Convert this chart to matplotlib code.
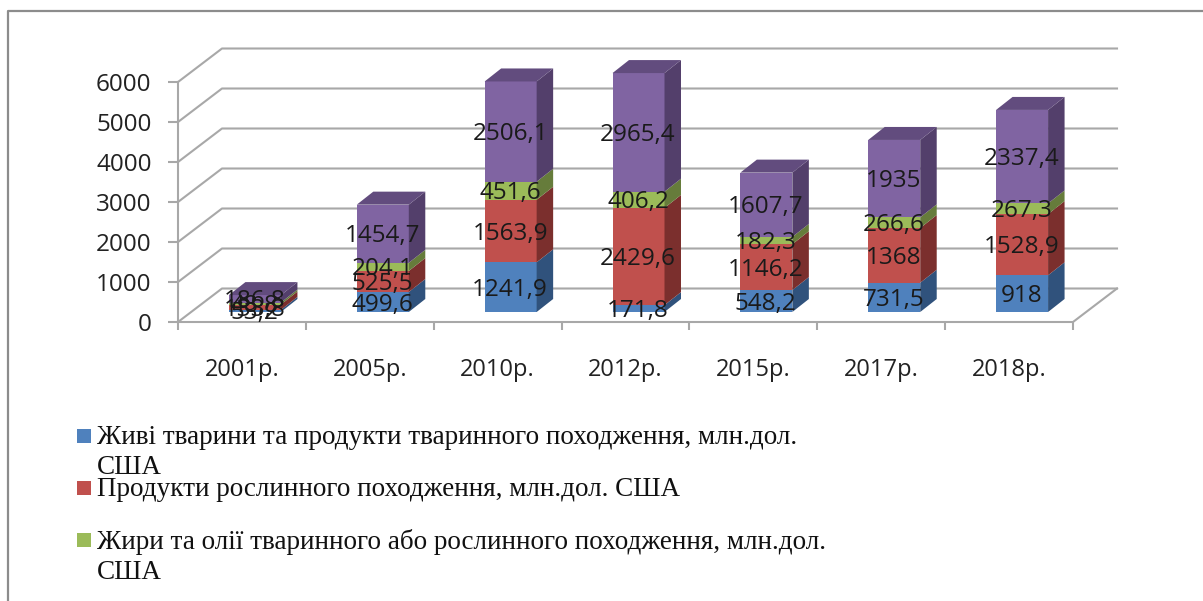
import matplotlib
matplotlib.use("Agg")
import matplotlib.pyplot as plt
from matplotlib.patches import Rectangle
import numpy as np

years = ["2001р.", "2005р.", "2010р.", "2012р.", "2015р.", "2017р.", "2018р."]
zhyvi = [53.2, 499.6, 1241.9, 171.8, 548.2, 731.5, 918]
roslynni = [133.8, 525.5, 1563.9, 2429.6, 1146.2, 1368, 1528.9]
zhyry = [48.8, 204.1, 451.6, 406.2, 182.3, 266.6, 267.3]
inshi = [186.8, 1454.7, 2506.1, 2965.4, 1607.7, 1935, 2337.4]
zhyvi_txt = ["53,2", "499,6", "1241,9", "171,8", "548,2", "731,5", "918"]
roslynni_txt = ["133,8", "525,5", "1563,9", "2429,6", "1146,2", "1368", "1528,9"]
zhyry_txt = ["48,8", "204,1", "451,6", "406,2", "182,3", "266,6", "267,3"]
inshi_txt = ["186,8", "1454,7", "2506,1", "2965,4", "1607,7", "1935", "2337,4"]
yticks = [0, 1000, 2000, 3000, 4000, 5000, 6000]

W, H = 1203, 601
GRID = "#a8a8a8"

fig = plt.figure(figsize=(W / 100, H / 100), dpi=100)
fig.patch.set_facecolor("white")


def px_box(x0, y0, x1, y1):  # pixels from top left -> figure fractions
    return [x0 / W, 1 - y1 / H, (x1 - x0) / W, (y1 - y0) / H]


# chart frame, only left and top are in the crop
frame = fig.add_axes([0, 0, 1, 1], zorder=0)
frame.set_xlim(0, W)
frame.set_ylim(H, 0)
frame.axis("off")
frame.plot([8, 8, W], [H, 11, 11], color="#8c8c8c", lw=1.6)

ax = fig.add_axes(px_box(178, 82, 1073, 322), zorder=1)
ax.patch.set_alpha(0)
ax.set_xlim(0, 7)
ax.set_ylim(0, 6000)

# depth of the fake 3d box, in data units (category / value)
px_x = 7 / 895
px_y = 6000 / 240
wall_dx, wall_dy = 44 * px_x, 33.5 * px_y
bar_dx, bar_dy = 16.5 * px_x, 13 * px_y
bar_w = 52 * px_x
shift_x, shift_y = 13 * px_x, 10 * px_y

for s in ax.spines.values():
    s.set_visible(False)

# walls and gridlines
for v in yticks:
    ax.plot([0, wall_dx, 7 + wall_dx], [v, v + wall_dy, v + wall_dy], color=GRID, lw=1.5, clip_on=False, zorder=1)
ax.plot([0, 0], [0, 6000], color=GRID, lw=1.5, clip_on=False, zorder=1)
ax.plot([0, 7, 7 + wall_dx], [0, 0, wall_dy], color=GRID, lw=1.5, clip_on=False, zorder=1.5)

ax.set_yticks(yticks)
ax.set_xticks(np.arange(7) + 0.5)
ax.set_xticklabels(years)
ax.set_xticks(np.arange(8), minor=True)
ax.tick_params(axis="x", which="major", length=0, pad=26, labelsize=17, labelcolor="#222222")
ax.tick_params(axis="x", which="minor", length=6, width=1.5, color=GRID)
ax.tick_params(axis="y", length=7, width=1.5, color=GRID, pad=12, labelsize=17.5, labelcolor="#222222")
for lab in ax.get_xticklabels() + ax.get_yticklabels():
    lab.set_family("Open Sans")

# stacked bars with side and top faces
series = [zhyvi, roslynni, zhyry, inshi]
series_txt = [zhyvi_txt, roslynni_txt, zhyry_txt, inshi_txt]
front_col = ["#4f81bd", "#c0504d", "#9bbb59", "#8064a2"]
side_col = ["#30527c", "#7b2f2d", "#667c3b", "#533f6b"]
top_col = "#624c7e"

x = np.arange(len(years)) + 0.5 + shift_x
bottom = np.zeros(len(years)) + shift_y
for vals, txts, fc, sc in zip(series, series_txt, front_col, side_col):
    vals = np.array(vals)
    ax.bar(x, vals, bar_w, bottom=bottom, color=fc, clip_on=False, zorder=3)
    for i in range(len(x)):
        r = x[i] + bar_w / 2
        y0, y1 = bottom[i], bottom[i] + vals[i]
        ax.fill([r, r + bar_dx, r + bar_dx, r], [y0, y0 + bar_dy, y1 + bar_dy, y1], color=sc, lw=0, clip_on=False, zorder=3)
        ax.text(x[i] - 0.5 * px_x, (y0 + y1) / 2 - 2.5 * px_y, txts[i], ha="center", va="center", fontsize=17.5,
                family="Open Sans", color="#1a1a1a", zorder=5, clip_on=False)
    bottom = bottom + vals
for i in range(len(x)):
    l, r = x[i] - bar_w / 2, x[i] + bar_w / 2
    t = bottom[i]
    ax.fill([l, r, r + bar_dx, l + bar_dx], [t, t, t + bar_dy, t + bar_dy], color=top_col, lw=0, clip_on=False, zorder=3)

# legend, written by hand because the entries wrap unevenly
legend_labels = [
    "Живі тварини та продукти тваринного походження, млн.дол.\nСША",
    "Продукти рослинного походження, млн.дол. США",
    "Жири та олії тваринного або рослинного походження, млн.дол.\nСША",
]
legend_y = [436, 488, 540]
for lab, ly, c in zip(legend_labels, legend_y, front_col):
    frame.add_patch(Rectangle((77, ly - 7), 14, 14, color=c, lw=0))
    frame.text(97, ly - 11, lab, va="top", ha="left", fontsize=19.5, family="Liberation Serif",
               color="#111111", linespacing=1.27)

fig.savefig("out.png", dpi=100)
